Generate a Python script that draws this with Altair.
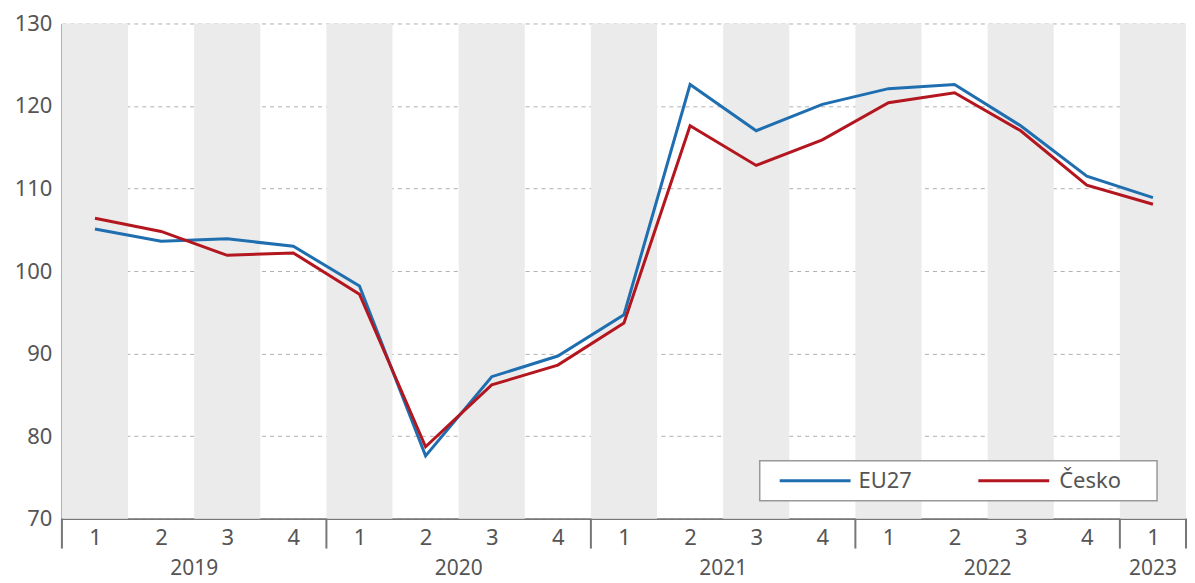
import altair as alt
import pandas as pd

quarter_labels = ["1", "2", "3", "4", "1", "2", "3", "4", "1", "2", "3", "4",
                  "1", "2", "3", "4", "1"]
eu27 = [105.1, 103.6, 103.9, 103.0, 98.2, 77.6, 87.2, 89.7, 94.7, 122.6, 117.0,
        120.2, 122.1, 122.6, 117.6, 111.5, 108.9]
cesko = [106.4, 104.8, 101.9, 102.2, 97.2, 78.7, 86.2, 88.6, 93.7, 117.6, 112.8,
         115.9, 120.4, 121.6, 117.0, 110.4, 108.1]
year_names = ["2019", "2020", "2021", "2022", "2023"]
year_centers = [1.5, 5.5, 9.5, 13.5, 16]
year_bounds = [-0.5, 3.5, 7.5, 11.5, 15.5, 16.5]
series_names = ["EU27", "Česko"]
series_colors = ["#1f6eb0", "#b3161e"]

W, H = 1126, 496
FONT = "Noto Sans"
TXT = "#555555"

n = len(quarter_labels)
idx = list(range(n))
lines_df = pd.DataFrame({
    "i": idx * 2,
    "v": eu27 + cesko,
    "s": ["EU27"] * n + ["Česko"] * n,
})
bands_df = pd.DataFrame({"x0": [i - 0.5 for i in idx if i % 2 == 0],
                         "x1": [i + 0.5 for i in idx if i % 2 == 0]})
years_df = pd.DataFrame({"x": year_centers, "t": year_names})
bounds_df = pd.DataFrame({"x": year_bounds})

xscale = alt.Scale(domain=[-0.5, n - 0.5], nice=False, zero=False)
yscale = alt.Scale(domain=[70, 130], nice=False, zero=False)
cscale = alt.Scale(domain=series_names, range=series_colors)

label_expr = "[" + ",".join("'%s'" % q for q in quarter_labels) + "][datum.value]"

bands = alt.Chart(bands_df).mark_rect(color="#ebebeb").encode(
    x=alt.X("x0:Q", scale=xscale,
            axis=alt.Axis(values=idx, labelExpr=label_expr, title=None, ticks=False,
                          grid=False, domainColor="#777777", domainWidth=2,
                          labelFont=FONT, labelFontSize=22, labelColor=TXT,
                          labelPadding=9)),
    x2="x1:Q",
    y=alt.value(0),
    y2=alt.value(H),
)

lines = alt.Chart(lines_df).mark_line(strokeWidth=3).encode(
    x=alt.X("i:Q", scale=xscale),
    y=alt.Y("v:Q", scale=yscale,
            axis=alt.Axis(values=[70, 80, 90, 100, 110, 120, 130], title=None,
                          ticks=False, grid=True, gridDash=[4, 4], gridColor="#b0b0b0",
                          gridWidth=1, domainColor="#777777", domainWidth=2,
                          labelFont=FONT, labelFontSize=22, labelColor=TXT,
                          labelPadding=10)),
    color=alt.Color("s:N", scale=cscale, legend=None),
    order=alt.Order("i:Q"),
)

bounds = alt.Chart(bounds_df).mark_rule(color="#777777", strokeWidth=2).encode(
    x=alt.X("x:Q", scale=xscale),
    y=alt.value(H),
    y2=alt.value(H + 30),
)

years = alt.Chart(years_df).mark_text(font=FONT, fontSize=21, color=TXT,
                                      baseline="middle").encode(
    x=alt.X("x:Q", scale=xscale),
    y=alt.value(H + 50),
    text="t:N",
)

# legend box (manual, horizontal)
LX, LY, LW, LH = 699, 438, 398, 40
legend_df = pd.DataFrame({"s": series_names, "k": [0, 1]})
box = alt.Chart(pd.DataFrame({"a": [0]})).mark_rect(
    fill="white", stroke="#999999", strokeWidth=1.5).encode(
    x=alt.value(LX), x2=alt.value(LX + LW), y=alt.value(LY), y2=alt.value(LY + LH))
leg_line = alt.Chart(legend_df).mark_rule(strokeWidth=3).encode(
    x=alt.X("xa:Q", scale=None), x2="xb:Q",
    y=alt.value(LY + LH / 2),
    color=alt.Color("s:N", scale=cscale, legend=None),
).transform_calculate(xa=f"{LX + 20} + datum.k * 199", xb=f"{LX + 91} + datum.k * 199")
leg_text = alt.Chart(legend_df).mark_text(
    font=FONT, fontSize=22, color=TXT, align="left", baseline="middle").encode(
    x=alt.X("xt:Q", scale=None),
    y=alt.value(LY + LH / 2),
    text="s:N",
).transform_calculate(xt=f"{LX + 99} + datum.k * 201")

chart = alt.layer(bands, lines, bounds, years, box, leg_line, leg_text).properties(
    width=W, height=H,
    padding={"top": 4, "left": 6, "right": 0, "bottom": 10},
).configure_view(stroke=None)

chart.save("out.html", embed_options={"renderer": "svg", "actions": False})
